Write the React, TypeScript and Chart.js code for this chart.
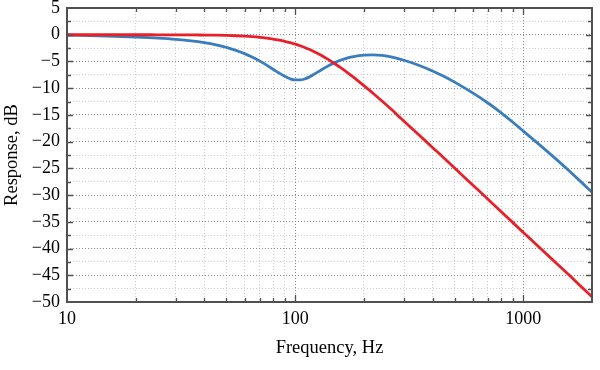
import React, { useEffect, useRef } from 'react';
import { Chart, registerables } from 'chart.js';

Chart.register(...registerables);

// Frequencies (Hz)
const frequencies = [10, 15, 20, 25, 30, 35, 40, 45, 50, 55, 60, 65, 70, 75, 80, 85, 90, 95, 100, 105, 110, 115, 120, 130, 140, 150, 160, 170, 180, 200, 220, 240, 260, 280, 300, 350, 400, 450, 500, 600, 700, 800, 900, 1000, 1200, 1400, 1600, 1800, 2000];

// Blue series (dB)
const blueResponse = [-0.08, -0.26, -0.45, -0.64, -0.86, -1.13, -1.47, -1.88, -2.36, -2.92, -3.54, -4.22, -4.94, -5.69, -6.45, -7.17, -7.79, -8.24, -8.46, -8.46, -8.28, -7.93, -7.5, -6.59, -5.8, -5.17, -4.69, -4.33, -4.08, -3.81, -3.77, -3.88, -4.11, -4.42, -4.78, -5.75, -6.77, -7.82, -8.87, -10.89, -12.77, -14.6, -16.37, -18.04, -20.89, -23.37, -25.6, -27.62, -29.47];

// Red series (dB)
const redResponse = [0, 0, 0, -0.01, -0.02, -0.03, -0.06, -0.09, -0.13, -0.19, -0.27, -0.37, -0.49, -0.64, -0.81, -1.01, -1.23, -1.48, -1.76, -2.06, -2.38, -2.72, -3.08, -3.84, -4.65, -5.47, -6.31, -7.13, -7.94, -9.53, -11.0, -12.4, -13.7, -15.0, -16.17, -18.8, -21.09, -23.1, -24.95, -28.11, -30.78, -33.1, -35.15, -36.98, -40.14, -42.8, -45.1, -47.2, -49.02];

// Axis ticks
const xTickValues = [10, 20, 30, 40, 50, 60, 70, 80, 90, 100, 200, 300, 400, 500, 600, 700, 800, 900, 1000, 2000];
const xLabelValues = [10, 100, 1000];
const yTickValues = [5, 2.5, 0, -2.5, -5, -7.5, -10, -12.5, -15, -17.5, -20, -22.5, -25, -27.5, -30, -32.5, -35, -37.5, -40, -42.5, -45, -47.5, -50];

const FONT = '"Liberation Serif", "Times New Roman", serif';
const FRAME = '#505050';

const framePlugin = {
  id: 'frameTicks',
  afterDatasetsDraw(chart: any) {
    const { ctx, chartArea } = chart;
    const { left, right, top, bottom } = chartArea;
    const xs = chart.scales.x;
    const ys = chart.scales.y;
    ctx.save();
    ctx.strokeStyle = FRAME;
    ctx.lineWidth = 1.3;
    ctx.beginPath();
    for (const v of xTickValues) {
      if (v === 10 || v === 2000) continue;
      const px = Math.round(xs.getPixelForValue(v)) + 0.5;
      const len = xLabelValues.includes(v) ? 7 : 4;
      ctx.moveTo(px, bottom);
      ctx.lineTo(px, bottom - len);
      ctx.moveTo(px, top);
      ctx.lineTo(px, top + len);
    }
    for (const v of yTickValues) {
      if (v === 5 || v === -50) continue;
      const py = Math.round(ys.getPixelForValue(v)) + 0.5;
      const len = v % 5 === 0 ? 6 : 4;
      ctx.moveTo(left, py);
      ctx.lineTo(left + len, py);
      ctx.moveTo(right, py);
      ctx.lineTo(right - len, py);
    }
    ctx.stroke();
    ctx.lineWidth = 2;
    ctx.strokeStyle = FRAME;
    ctx.strokeRect(left, top, right - left, bottom - top);
    ctx.restore();
  },
};

export default function App() {
  const canvasRef = useRef<HTMLCanvasElement | null>(null);

  useEffect(() => {
    const canvas = canvasRef.current;
    if (!canvas) return;
    const chart = new Chart(canvas, {
      type: 'line',
      data: {
        datasets: [
          {
            label: 'Blue',
            data: frequencies.map((f, i) => ({ x: f, y: blueResponse[i] })),
            borderColor: '#3a7dbf',
            borderWidth: 2.8,
            pointRadius: 0,
            cubicInterpolationMode: 'monotone',
            order: 2,
          },
          {
            label: 'Red',
            data: frequencies.map((f, i) => ({ x: f, y: redResponse[i] })),
            borderColor: '#e8202a',
            borderWidth: 2.8,
            pointRadius: 0,
            cubicInterpolationMode: 'monotone',
            order: 1,
          },
        ],
      },
      options: {
        responsive: false,
        animation: false,
        layout: { padding: { top: 8, right: 8, left: 0, bottom: 0 } },
        plugins: { legend: { display: false }, tooltip: { enabled: false } },
        scales: {
          x: {
            type: 'logarithmic',
            min: 10,
            max: 2000,
            afterBuildTicks: (scale: any) => {
              scale.ticks = xTickValues.map((v) => ({ value: v, major: xLabelValues.includes(v) }));
            },
            afterFit: (scale: any) => {
              scale.height = 68;
              scale.paddingLeft = 0;
              scale.paddingRight = 0;
            },
            ticks: {
              autoSkip: false,
              maxRotation: 0,
              padding: 6,
              color: '#000',
              font: { family: FONT, size: 18 },
              callback: (v: any) => (xLabelValues.includes(Number(v)) ? String(v) : ''),
            },
            grid: {
              drawTicks: false,
              lineWidth: 1,
              color: (c: any) => {
                const v = c.tick ? c.tick.value : 0;
                if (v === 10 || v === 2000) return 'rgba(0,0,0,0)';
                return xLabelValues.includes(v) ? '#8a8a8a' : '#cfcfcf';
              },
            },
            border: { display: false, dash: [1, 2] },
            title: {
              display: true,
              text: 'Frequency, Hz',
              color: '#000',
              font: { family: FONT, size: 18.5 },
              padding: { top: 0, bottom: 11 },
            },
          },
          y: {
            type: 'linear',
            min: -50,
            max: 5,
            afterBuildTicks: (scale: any) => {
              scale.ticks = yTickValues.map((v) => ({ value: v }));
            },
            afterFit: (scale: any) => {
              scale.width = 67;
              scale.paddingTop = 0;
              scale.paddingBottom = 0;
            },
            ticks: {
              autoSkip: false,
              padding: 7,
              color: '#000',
              font: { family: FONT, size: 18 },
              callback: (v: any) => {
                const n = Number(v);
                if (n % 5 !== 0) return '';
                return n < 0 ? '\u2212' + Math.abs(n) : String(n);
              },
            },
            grid: {
              drawTicks: false,
              lineWidth: 1,
              color: (c: any) => {
                const v = c.tick ? c.tick.value : 0;
                if (v === 5 || v === -50) return 'rgba(0,0,0,0)';
                return v % 5 === 0 ? '#8a8a8a' : '#cfcfcf';
              },
            },
            border: { display: false, dash: [1, 2] },
            title: {
              display: true,
              text: 'Response, dB',
              color: '#000',
              font: { family: FONT, size: 18.5 },
              padding: { top: 1, bottom: 0 },
            },
          },
        },
      },
      plugins: [framePlugin],
    } as any);
    return () => chart.destroy();
  }, []);

  return (
    <div style={{ position: 'absolute', left: 0, top: 0, width: 600, height: 370, background: '#fff' }}>
      <canvas ref={canvasRef} width={600} height={370} style={{ width: 600, height: 370, display: 'block' }} />
    </div>
  );
}
